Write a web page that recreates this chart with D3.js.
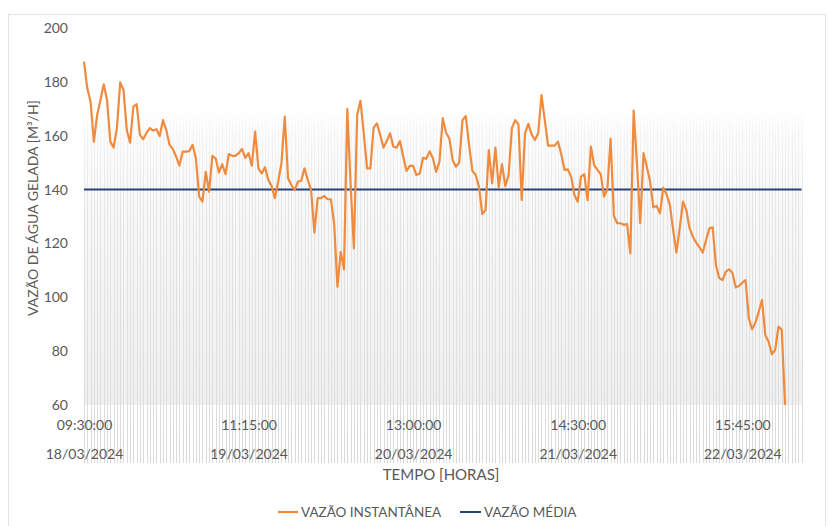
<!DOCTYPE html>
<html><head><meta charset="utf-8">
<script src="https://cdn.jsdelivr.net/npm/d3@7"></script>
<style>
body{margin:0;background:#fff}
svg text{font-family:Lato,"Open Sans",sans-serif;fill:#595959}
</style></head>
<body><svg id="c" width="828" height="526"></svg>
<script>
const vazaoInstantanea = [
187.5,177.6,172.6,157.8,167.7,173.3,179.1,173.3,157.8,155.6,
162.8,179.8,177.0,162.1,157.4,170.8,171.7,160.3,158.7,161.1,
162.8,161.9,162.4,159.9,165.8,162.1,156.6,155.0,152.2,148.9,
154.1,154.1,154.3,156.6,151.6,137.4,135.5,146.6,139.2,152.5,
151.6,146.3,149.4,145.7,153.2,152.5,152.5,153.5,155.1,151.8,
153.5,148.9,161.5,147.9,146.0,148.3,143.6,141.3,136.8,142.9,
149.8,167.1,144.2,141.7,139.8,142.9,143.3,147.9,143.6,139.8,
124.0,136.8,136.8,137.6,136.4,136.4,127.5,103.9,116.9,110.4,
169.9,142.0,118.2,167.7,173.0,160.9,147.9,147.9,163.0,164.6,
160.3,155.6,158.0,160.9,155.9,155.6,158.0,152.2,146.9,148.8,
148.8,145.4,146.0,151.8,151.4,154.2,151.6,146.6,150.4,166.5,
161.1,159.0,151.0,148.5,150.0,165.8,167.3,156.6,147.0,145.4,
141.1,130.9,132.4,154.7,142.3,155.6,140.8,149.5,141.3,145.4,
162.8,165.8,164.2,136.1,160.9,164.4,160.5,158.4,160.9,175.1,
165.8,156.3,156.3,156.3,157.8,153.2,147.3,147.5,144.8,138.0,
135.5,144.8,145.7,136.1,156.0,149.1,147.3,145.7,137.4,140.1,
158.8,130.2,127.5,127.5,126.9,127.2,116.3,169.3,149.8,127.5,
153.5,148.5,142.9,133.4,133.9,131.2,140.7,138.2,134.3,125.0,
116.6,125.6,135.5,132.4,125.6,122.5,120.3,118.6,116.6,121.3,
125.6,126.0,112.0,107.1,106.4,109.5,110.4,109.1,103.7,104.2,
105.4,106.4,92.2,88.1,90.6,94.6,99.0,86.0,83.5,78.9,
80.4,89.1,87.9,60.0
];
const vazaoMedia = 140;
const totalCategories = 219;
const tickIndices = [0, 50, 100, 150, 200];
const timeLabels = ["09:30:00", "11:15:00", "13:00:00", "14:30:00", "15:45:00"];
const dateLabels = ["18/03/2024", "19/03/2024", "20/03/2024", "21/03/2024", "22/03/2024"];
const yTicks = [60, 80, 100, 120, 140, 160, 180, 200];
const seriesNames = ["VAZÃO INSTANTÂNEA", "VAZÃO MÉDIA"];
const xTitle = "TEMPO [HORAS]";
const yTitle = "VAZÃO DE ÁGUA GELADA [M³/H]";

const svg = d3.select("#c");
const L = 84, R = 801.5, T = 28, B = 405;
const x = d3.scaleLinear().domain([0, totalCategories - 1]).range([L, R]);
const y = d3.scaleLinear().domain([60, 200]).range([B, T]);

// outer border
svg.append("rect").attr("x", 8.5).attr("y", 14.5).attr("width", 817).attr("height", 530)
  .attr("fill", "#fff").attr("stroke", "#e3e3e3");

const defs = svg.append("defs");
const bg = defs.append("linearGradient").attr("id", "bg").attr("gradientUnits", "userSpaceOnUse")
  .attr("x1", 0).attr("x2", 0).attr("y1", 110).attr("y2", B);
bg.append("stop").attr("offset", 0).attr("stop-color", "#ffffff");
bg.append("stop").attr("offset", 0.1).attr("stop-color", "#fbfbfb");
bg.append("stop").attr("offset", 1).attr("stop-color", "#f0f0f0");
const gl = defs.append("linearGradient").attr("id", "gl").attr("gradientUnits", "userSpaceOnUse")
  .attr("x1", 0).attr("x2", 0).attr("y1", 110).attr("y2", 463);
gl.append("stop").attr("offset", 0).attr("stop-color", "#ffffff");
gl.append("stop").attr("offset", 0.06).attr("stop-color", "#f5f5f5");
gl.append("stop").attr("offset", 0.3).attr("stop-color", "#e4e4e4");
gl.append("stop").attr("offset", 1).attr("stop-color", "#dadada");

svg.append("rect").attr("x", L).attr("y", 110).attr("width", R - L).attr("height", B - 110)
  .attr("fill", "url(#bg)");

svg.append("g").selectAll("line").data(d3.range(totalCategories)).join("line")
  .attr("x1", d => Math.round(x(d)) + 0.5).attr("x2", d => Math.round(x(d)) + 0.5)
  .attr("y1", 110).attr("y2", 463)
  .attr("stroke", "url(#gl)").attr("stroke-width", 1);

// y axis
const ya = svg.append("g").attr("transform", `translate(${L},0)`)
  .call(d3.axisLeft(y).tickValues(yTicks).tickSize(0).tickPadding(16));
ya.select(".domain").remove();
ya.selectAll("text").attr("font-size", 14).style("font-family", "Lato,'Open Sans',sans-serif").attr("fill", "#595959");

// x axes (two-level labels)
const xa1 = svg.append("g").attr("transform", `translate(0,${B})`)
  .call(d3.axisBottom(x).tickValues(tickIndices).tickSize(0).tickPadding(15)
    .tickFormat((d, i) => timeLabels[i]));
xa1.select(".domain").remove();
const xa2 = svg.append("g").attr("transform", `translate(0,${B})`)
  .call(d3.axisBottom(x).tickValues(tickIndices).tickSize(0).tickPadding(44)
    .tickFormat((d, i) => dateLabels[i]));
xa2.select(".domain").remove();
svg.selectAll(".tick text").attr("font-size", 14).style("font-family", "Lato,'Open Sans',sans-serif").attr("fill", "#595959");

// average line
svg.append("line").attr("x1", L).attr("x2", R).attr("y1", y(vazaoMedia)).attr("y2", y(vazaoMedia))
  .attr("stroke", "#264478").attr("stroke-width", 2);

// instantaneous line
svg.append("path").datum(vazaoInstantanea)
  .attr("d", d3.line().x((d, i) => x(i)).y(d => y(d)))
  .attr("fill", "none").attr("stroke", "#EF8B3E").attr("stroke-width", 2.2)
  .attr("stroke-linejoin", "round");

// titles
svg.append("text").attr("x", 441).attr("y", 480).attr("text-anchor", "middle")
  .attr("font-size", 15).text(xTitle);
svg.append("text").attr("transform", "translate(38,208) rotate(-90)").attr("text-anchor", "middle")
  .attr("font-size", 14).text(yTitle);

// legend
const leg = svg.append("g");
leg.append("line").attr("x1", 278).attr("x2", 298).attr("y1", 512).attr("y2", 512)
  .attr("stroke", "#EF8B3E").attr("stroke-width", 2.2);
leg.append("text").attr("x", 301).attr("y", 517).attr("font-size", 13.5).text(seriesNames[0]);
leg.append("line").attr("x1", 460).attr("x2", 481).attr("y1", 512).attr("y2", 512)
  .attr("stroke", "#264478").attr("stroke-width", 2);
leg.append("text").attr("x", 484).attr("y", 517).attr("font-size", 13.5).text(seriesNames[1]);
</script></body></html>
